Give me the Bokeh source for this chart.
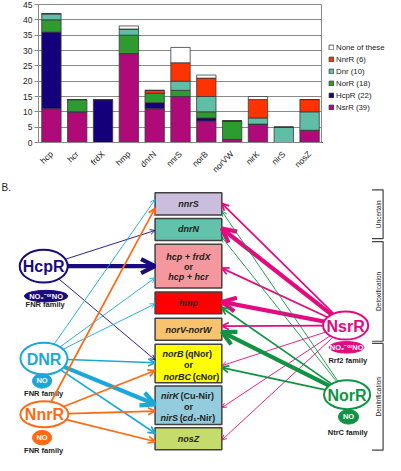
from math import pi, sqrt
from bokeh.plotting import figure
from bokeh.layouts import column, row
from bokeh.models import (ColumnDataSource, Legend, LegendItem, Label, Arrow,
                          OpenHead, FixedTicker)
from bokeh.core.properties import value
from bokeh.embed import file_html
from bokeh.resources import INLINE

FONT = "Liberation Sans"

# ---------------- Panel A data ----------------
genes = ["hcp", "hcr", "frdX", "hmp", "dnrN", "nnrS", "norB", "norVW", "nirK", "nirS", "nosZ"]
nsrr = [11, 10, 0, 29, 11, 15, 7, 1, 6, 0, 4]
hcpr = [25, 0, 14, 0, 2, 0, 1, 0, 0, 0, 0]
norr = [4, 4, 0, 6, 3, 2, 2, 6, 0, 0, 0]
dnr = [2, 0, 0, 2, 0, 3, 5, 0, 2, 5, 6]
nnrr = [0, 0, 0, 0, 1, 6, 6, 0, 6, 0, 4]
none_of_these = [0, 0, 0, 1, 0, 5, 1, 0, 1, 0, 0]
series_keys = ["NsrR", "HcpR", "NorR", "Dnr", "NnrR", "NoneOf"]
legend_labels = ["NsrR (39)", "HcpR (22)", "NorR (18)", "Dnr (10)", "NnrR (6)", "None of these"]
series_colors = ["#AF0A78", "#14007A", "#2E9B30", "#5FBEA5", "#FF3300", "#FFFFFF"]
y_ticks = [0, 5, 10, 15, 20, 25, 30, 35, 40, 45]

# ---------------- Panel B data ----------------
reg_names = ["HcpR", "DNR", "NnrR", "NsrR", "NorR"]
reg_x = [45, 45.3, 45.7, 359.5, 361]
reg_y = [275, 370.7, 428.3, 336.5, 408]
reg_w = [50, 49, 50, 47, 48]
reg_h = [34, 33, 27, 29, 30]
reg_colors = ["#1A0A80", "#1BA8D8", "#FF6A13", "#E5097F", "#109443"]
reg_signal = ["NO\u2082\u207b\u1d52\u02b3NO", "NO", "NO", "NO\u2082\u207b\u1d52\u02b3NO", "NO"]
sig_x = [47.5, 43.3, 43.3, 360.5, 362.5]
sig_y = [306, 393.8, 452.5, 359, 431]
sig_w = [45, 20, 20, 36, 21]
sig_h = [12, 15, 15, 12, 15]
reg_family = ["FNR family", "FNR family", "FNR family", "Rrf2 family", "NtrC family"]
fam_x = [46.5, 45, 45, 361.7, 361.7]
fam_y = [314.5, 406.7, 466, 372.3, 446.7]

box_names = ["nnrS", "dnrN", "hcp", "hmp", "norVW", "norB", "nirK", "nosZ"]
box_top = [199, 225.7, 252.3, 301.7, 329, 355.7, 399, 442.3]
box_bottom = [222, 248.3, 297.7, 324.3, 351.7, 395.7, 439, 465]
box_colors = ["#CBBEDC", "#62C2AC", "#F5989E", "#FF0000", "#F9C36E", "#FFFF00", "#93CDDD", "#C5DC6C"]
box_left = 161
box_right = 230.5

# (text, x, y, italic, align)
box_text = [
    ("nnrS", 195.8, 211, True, "center"),
    ("dnrN", 195.8, 236.8, True, "center"),
    ("hcp + frdX", 195.8, 265, True, "center"),
    ("or", 195.8, 275.5, False, "center"),
    ("hcp + hcr", 195.8, 285.7, True, "center"),
    ("hmp", 195.8, 313.3, True, "center"),
    ("norV-norW", 195.8, 340.7, True, "center"),
    ("norB", 190.5, 365.7, True, "right"),
    ("(qNor)", 192.3, 365.7, False, "left"),
    ("or", 195.8, 377, False, "center"),
    ("norBC", 198.3, 389.3, True, "right"),
    ("(cNor)", 200.3, 389.3, False, "left"),
    ("nirK", 186, 409.3, True, "right"),
    ("(Cu-Nir)", 187.6, 409.3, False, "left"),
    ("or", 195.8, 420.5, False, "center"),
    ("nirS", 184.8, 432.3, True, "right"),
    ("(", 186.6, 432.3, False, "left"),
    ("cd", 189.6, 432.3, True, "left"),
    ("\u2081-Nir)", 200.4, 432.3, False, "left"),
    ("nosZ", 195.8, 453.8, True, "center"),
]

# edges: source regulator, target box, arrival height, evidence strength (1 weak .. 3 strong)
edge_src = ["HcpR", "HcpR", "HcpR",
            "DNR", "DNR", "DNR", "DNR", "DNR", "DNR",
            "NnrR", "NnrR", "NnrR", "NnrR",
            "NsrR", "NsrR", "NsrR", "NsrR", "NsrR", "NsrR", "NsrR", "NsrR",
            "NorR", "NorR", "NorR", "NorR", "NorR"]
edge_dst = ["dnrN", "hcp", "norB",
            "nnrS", "hcp", "hmp", "norB", "nirK", "nosZ",
            "nnrS", "norB", "nirK", "nosZ",
            "nnrS", "dnrN", "hcp", "hmp", "norVW", "norB", "nirK", "nosZ",
            "nnrS", "dnrN", "hmp", "norVW", "norB"]
edge_end_y = [238, 275, 372,
              206, 287, 314, 375, 418, 448,
              215, 383, 425, 456.5,
              210, 236, 277, 312, 337, 378, 421.5, 455,
              218, 245, 318, 343, 380]
edge_strength = [1, 3, 1,
                 1, 1, 1, 2, 3, 2,
                 2, 2, 2, 2,
                 2, 3, 2, 3, 2, 1, 1, 1,
                 1, 1, 2, 3, 2]

bracket_labels = ["Uncertain", "Detoxification", "Denitrification"]
bracket_top = [196, 249.5, 355]
bracket_bottom = [246.5, 352.7, 465.5]

# ================= Panel A =================
pa = figure(x_range=genes, y_range=(0, 45), width=322, height=180,
            min_border_left=38, min_border_right=0, min_border_top=4, min_border_bottom=37,
            output_backend="svg", toolbar_location=None)
src = ColumnDataSource(data=dict(gene=genes, NsrR=nsrr, HcpR=hcpr, NorR=norr, Dnr=dnr,
                                 NnrR=nnrr, NoneOf=none_of_these))
rends = pa.vbar_stack(series_keys, x="gene", width=0.75, source=src,
                      fill_color=series_colors, line_color="#3a3a3a", line_width=0.8)

pa.yaxis.ticker = FixedTicker(ticks=y_ticks)
pa.yaxis.major_label_text_font_size = "8.5px"
pa.yaxis.major_label_text_font = FONT
pa.yaxis.major_label_text_color = "#222222"
pa.yaxis.axis_line_color = "#888888"
pa.yaxis.major_tick_line_color = "#888888"
pa.yaxis.major_tick_out = 4
pa.yaxis.major_tick_in = 0
pa.yaxis.minor_tick_line_color = None
pa.yaxis.major_label_standoff = 2
pa.xaxis.major_label_orientation = pi / 4
pa.xaxis.major_label_text_font_size = "8.5px"
pa.xaxis.major_label_text_font = FONT
pa.xaxis.major_label_text_color = "#222222"
pa.xaxis.axis_line_color = "#888888"
pa.xaxis.major_tick_line_color = None
pa.xaxis.major_label_standoff = 4
pa.xgrid.grid_line_color = None
pa.ygrid.grid_line_color = "#8a8a8a"
pa.outline_line_color = "#888888"
pa.add_layout(Label(x=-38, y=143, x_units="screen", y_units="screen", text="A.",
                    text_font=FONT, text_font_size="10px", text_baseline="top",
                    text_color="#222222"))

# legend panel (same series colours as the stacked bars; its swatch renderers lie outside view)
pl = figure(width=63, height=180, x_range=(0, 1), y_range=(0, 1),
            min_border_left=0, min_border_top=4, min_border_right=0, min_border_bottom=37,
            output_backend="svg", toolbar_location=None)
pl.axis.visible = False
pl.grid.visible = False
pl.outline_line_color = None
leg_rends = [pl.vbar(x=[-10], top=[-5], bottom=[-6], width=0.5, fill_color=c,
                     line_color="#3a3a3a", line_width=0.8) for c in series_colors]
items = [LegendItem(label=lab, renderers=[r]) for lab, r in zip(legend_labels, leg_rends)][::-1]
legend = Legend(items=items, location=(6, 30), orientation="vertical",
                glyph_width=6, glyph_height=6, label_text_font_size="7.8px",
                label_text_font=FONT, label_text_color="#222222", label_standoff=2,
                label_height=10, spacing=2,
                padding=0, margin=0, border_line_color=None, background_fill_alpha=0)
pl.add_layout(legend)

# ================= Panel B =================
pb = figure(width=385, height=275, x_range=(0, 401), y_range=(471, 186.3),
            min_border=0, output_backend="svg", toolbar_location=None)
pb.axis.visible = False
pb.grid.visible = False
pb.outline_line_color = None


def txt(p, x, y, s, size, color="#222222", style="bold", align="center", angle=0):
    p.text(x=[x], y=[y], text=[s], text_font=value(FONT), text_font_size=value(size),
           text_color=color, text_font_style=style, text_align=align,
           text_baseline="middle", angle=angle)


txt(pb, 1, 194, "B.", "10px", style="normal", align="left")

# boxes
pb.quad(left=[box_left] * len(box_names), right=[box_right] * len(box_names),
        top=box_top, bottom=box_bottom, fill_color=box_colors,
        line_color="#404040", line_width=1.5)
for s, x, y, it, al in box_text:
    txt(pb, x, y, s, "9px", style="bold italic" if it else "bold", align=al)

# regulators
pb.ellipse(x=reg_x, y=reg_y, width=reg_w, height=reg_h, fill_color="white",
           line_color=reg_colors, line_width=2)
pb.ellipse(x=sig_x, y=sig_y, width=sig_w, height=sig_h, fill_color=reg_colors,
           line_color=reg_colors, line_width=1)
for i, name in enumerate(reg_names):
    txt(pb, reg_x[i], reg_y[i] + 0.5, name, "16px", color=reg_colors[i])
    txt(pb, sig_x[i], sig_y[i], reg_signal[i], "7.5px", color="white")
    txt(pb, fam_x[i], fam_y[i], reg_family[i], "7.5px", color="#222222")

# arrows
reg_index = {n: i for i, n in enumerate(reg_names)}
width_of = {1: 0.9, 2: 1.7, 3: 4.2}
head_of = {1: 5, 2: 7, 3: 14}
for s, d, ey, st in zip(edge_src, edge_dst, edge_end_y, edge_strength):
    i = reg_index[s]
    cx, cy, w, h = reg_x[i], reg_y[i], reg_w[i], reg_h[i]
    ex = box_left if cx < box_left else box_right
    dx, dy = ex - cx, ey - cy
    t = 1.0 / sqrt((dx / (w / 2)) ** 2 + (dy / (h / 2)) ** 2)
    sx, sy = cx + dx * t, cy + dy * t
    c = reg_colors[i]
    lw = width_of[st]
    pb.add_layout(Arrow(end=OpenHead(size=head_of[st], line_color=c, line_width=lw),
                        x_start=sx, y_start=sy, x_end=ex, y_end=ey,
                        line_color=c, line_width=lw))

# brackets
for lab, y0, y1 in zip(bracket_labels, bracket_top, bracket_bottom):
    pb.line(x=[387, 398.5, 398.5, 387], y=[y0, y0, y1, y1], line_color="#444444",
            line_width=1.2)
    txt(pb, 394, (y0 + y1) / 2, lab, "6.5px", style="normal", angle=pi / 2)

layout = column(row(pa, pl, spacing=0), pb, spacing=0)
open("out.html", "w").write(file_html(layout, INLINE))
